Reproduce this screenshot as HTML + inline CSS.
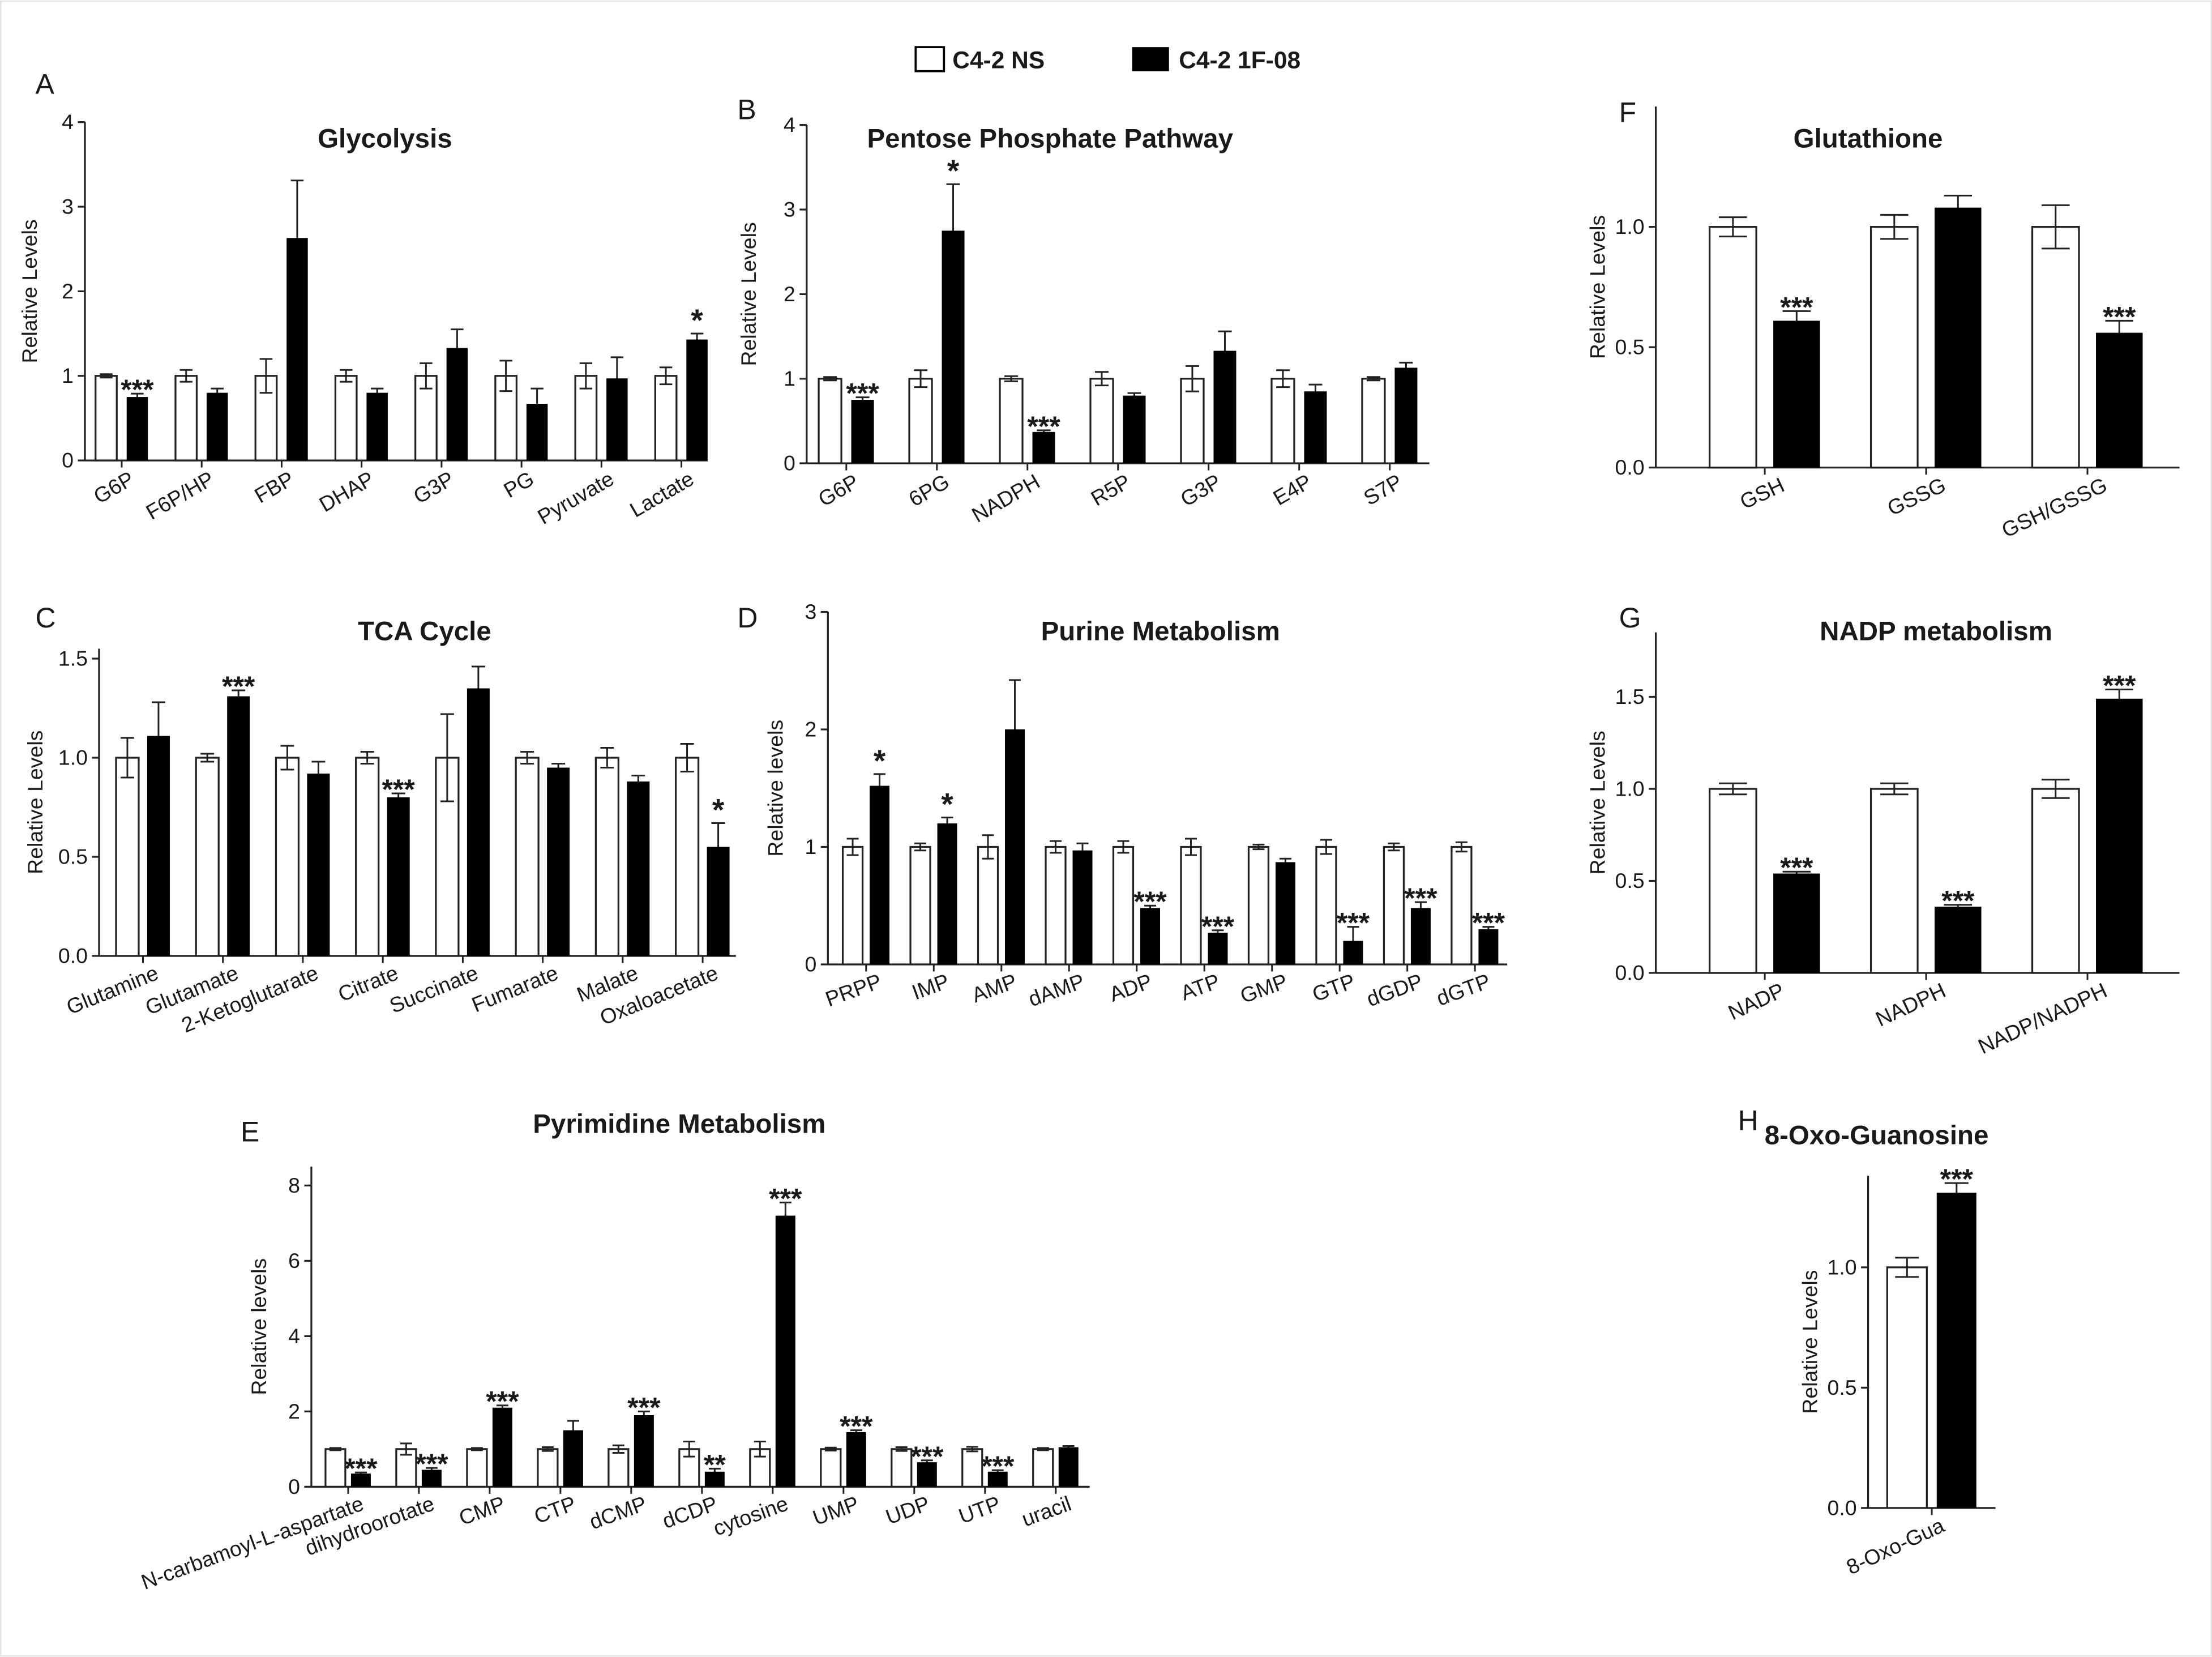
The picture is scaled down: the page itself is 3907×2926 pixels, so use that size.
<!DOCTYPE html>
<html><head><meta charset="utf-8"><style>
html,body{margin:0;padding:0;background:#fff}
svg{display:block}
text{font-family:"Liberation Sans",Arial,sans-serif;fill:#1a1a1a}
</style></head><body>
<svg id="fig" width="3907" height="2926" viewBox="0 0 1563 1170" xmlns="http://www.w3.org/2000/svg">
<rect x="0.5" y="0.5" width="1562" height="1169" fill="#fff" stroke="#e4e4e4"/>
<g>
<rect x="647" y="33" width="20" height="17" fill="#fff" stroke="#000" stroke-width="1.5"/>
<text x="673" y="48" font-size="17" font-weight="bold">C4-2 NS</text>
<rect x="800" y="33" width="26" height="17" fill="#000"/>
<text x="833" y="48" font-size="17" font-weight="bold">C4-2 1F-08</text>
</g>
</svg>
<script>
// Glycolysis
const glyCats=["G6P","F6P/HP","FBP","DHAP","G3P","PG","Pyruvate","Lactate"];
const glyNS=[1,1,1,1,1,1,1,1];
const glyNSErr=[0.02,0.07,0.2,0.07,0.15,0.18,0.15,0.1];
const glyKO=[0.75,0.8,2.63,0.8,1.33,0.67,0.97,1.43];
const glyKOErr=[0.04,0.05,0.68,0.05,0.22,0.18,0.25,0.07];
const glyStars=["***","","","","","","","*"];
const glyTicks=[0,1,2,3,4];
// Pentose phosphate
const pppCats=["G6P","6PG","NADPH","R5P","G3P","E4P","S7P"];
const pppNS=[1,1,1,1,1,1,1];
const pppNSErr=[0.02,0.1,0.03,0.08,0.15,0.1,0.02];
const pppKO=[0.75,2.75,0.37,0.8,1.33,0.85,1.13];
const pppKOErr=[0.03,0.55,0.02,0.03,0.23,0.08,0.06];
const pppStars=["***","*","***","","","",""];
const pppTicks=[0,1,2,3,4];
// Glutathione
const gshCats=["GSH","GSSG","GSH/GSSG"];
const gshNS=[1,1,1];
const gshNSErr=[0.04,0.05,0.09];
const gshKO=[0.61,1.08,0.56];
const gshKOErr=[0.04,0.05,0.05];
const gshStars=["***","","***"];
const gshTicks=[0,0.5,1.0];
// TCA
const tcaCats=["Glutamine","Glutamate","2-Ketoglutarate","Citrate","Succinate","Fumarate","Malate","Oxaloacetate"];
const tcaNS=[1,1,1,1,1,1,1,1];
const tcaNSErr=[0.1,0.02,0.06,0.03,0.22,0.03,0.05,0.07];
const tcaKO=[1.11,1.31,0.92,0.8,1.35,0.95,0.88,0.55];
const tcaKOErr=[0.17,0.03,0.06,0.02,0.11,0.02,0.03,0.12];
const tcaStars=["","***","","***","","","","*"];
const tcaTicks=[0,0.5,1.0,1.5];
// Purine
const purCats=["PRPP","IMP","AMP","dAMP","ADP","ATP","GMP","GTP","dGDP","dGTP"];
const purNS=[1,1,1,1,1,1,1,1,1,1];
const purNSErr=[0.07,0.03,0.1,0.05,0.05,0.07,0.02,0.06,0.03,0.04];
const purKO=[1.52,1.2,2.0,0.97,0.48,0.27,0.87,0.2,0.48,0.3];
const purKOErr=[0.1,0.05,0.42,0.06,0.02,0.02,0.03,0.12,0.05,0.02];
const purStars=["*","*","","","***","***","","***","***","***"];
const purTicks=[0,1,2,3];
// NADP
const nadCats=["NADP","NADPH","NADP/NADPH"];
const nadNS=[1,1,1];
const nadNSErr=[0.03,0.03,0.05];
const nadKO=[0.54,0.36,1.49];
const nadKOErr=[0.01,0.01,0.05];
const nadStars=["***","***","***"];
const nadTicks=[0,0.5,1.0,1.5];
// Pyrimidine
const pyrCats=["N-carbamoyl-L-aspartate","dihydroorotate","CMP","CTP","dCMP","dCDP","cytosine","UMP","UDP","UTP","uracil"];
const pyrNS=[1,1,1,1,1,1,1,1,1,1,1];
const pyrNSErr=[0.03,0.15,0.03,0.05,0.1,0.2,0.2,0.04,0.05,0.06,0.03];
const pyrKO=[0.35,0.45,2.1,1.5,1.9,0.4,7.2,1.45,0.65,0.4,1.05];
const pyrKOErr=[0.03,0.05,0.06,0.25,0.1,0.08,0.35,0.05,0.05,0.04,0.03];
const pyrStars=["***","***","***","","***","**","***","***","***","***",""];
const pyrTicks=[0,2,4,6,8];
// 8-Oxo
const oxoCats=["8-Oxo-Gua"];
const oxoNS=[1];
const oxoNSErr=[0.04];
const oxoKO=[1.31];
const oxoKOErr=[0.04];
const oxoStars=["***"];
const oxoTicks=[0,0.5,1.0];

const NS="http://www.w3.org/2000/svg";
const svg=document.getElementById('fig');
function mk(tag,attrs,parent){const e=document.createElementNS(NS,tag);for(const k in attrs)e.setAttribute(k,attrs[k]);(parent||svg).appendChild(e);return e;}

function panel(p){
  const g=mk('g',{});
  
  
  const yS=v=>p.y0-v*p.ppu;
  const xC=i=>p.x1+i*p.sp;
  const top=yS(p.ymax);
  const L=mk('text',{x:p.lx,y:p.ly,'font-size':20,'font-family':'"Liberation Serif",serif'},g);L.textContent=p.letter;
  
  
  const T=mk('text',{x:p.tx,y:p.ty,'font-size':19,'font-weight':'bold','text-anchor':'middle'},g);T.textContent=p.title;
  
  
  const ya=mk('line',{x1:p.ax,y1:top,x2:p.ax,y2:p.y0,stroke:'#222','stroke-width':1.3},g);
  
  
  const xa=mk('line',{x1:p.ax,y1:p.y0,x2:p.axEnd,y2:p.y0,stroke:'#222','stroke-width':1.3},g);
  
  
  p.ticks.forEach(t=>{
    mk('line',{x1:p.ax-5,y1:yS(t),x2:p.ax,y2:yS(t),stroke:'#222','stroke-width':1.3},g);
    const tl=mk('text',{x:p.ax-8,y:yS(t)+5,'font-size':15,'text-anchor':'end'},g);
    tl.textContent=p.dec?t.toFixed(1):String(t);
    
    
  });
  const midY=(top+p.y0)/2;
  const yt=mk('text',{x:p.ytx,y:midY,'font-size':15,'text-anchor':'middle',transform:`rotate(-90 ${p.ytx} ${midY})`},g);
  yt.textContent=p.ylab;
  
  
  const w=p.bw;
  p.cats.forEach((c,i)=>{
    const cx=xC(i);
    const nx=cx-p.gap/2-w/2, kx=cx+p.gap/2+w/2;
    [[nx,p.ns[i],p.nsE[i]],[kx,p.ko[i],p.koE[i]]].forEach(([x,v,e])=>{
      const eb=mk('path',{d:`M${x} ${yS(v)}V${yS(v+e)}M${x-w*0.3} ${yS(v+e)}H${x+w*0.3}M${x} ${yS(v)}V${yS(v-e)}M${x-w*0.3} ${yS(v-e)}H${x+w*0.3}`,stroke:'#222','stroke-width':1.2,fill:'none'},g);
      
      
    });
    const b1=mk('rect',{x:nx-w/2,y:yS(p.ns[i]),width:w,height:p.ns[i]*p.ppu,fill:'#fff',stroke:'#222','stroke-width':1.3},g);
    
    
    const b2=mk('rect',{x:kx-w/2,y:yS(p.ko[i]),width:w,height:p.ko[i]*p.ppu,fill:'#000'},g);
    
    
    mk('line',{x1:nx,y1:yS(p.ns[i]),x2:nx,y2:yS(p.ns[i]-p.nsE[i]),stroke:'#222','stroke-width':1.2},g);
    mk('line',{x1:nx-w*0.3,y1:yS(p.ns[i]-p.nsE[i]),x2:nx+w*0.3,y2:yS(p.ns[i]-p.nsE[i]),stroke:'#222','stroke-width':1.2},g);
    if(p.stars[i]){
      const st=mk('text',{x:kx,y:yS(p.ko[i]+p.koE[i])+(p.stars[i]=="*"?-2:4),'font-size':p.stars[i]=="*"?22:20,'font-weight':'bold','text-anchor':'middle'},g);
      st.textContent=p.stars[i];
      
      
    }
    mk('line',{x1:cx,y1:p.y0,x2:cx,y2:p.y0+5,stroke:'#222','stroke-width':1.2},g);
    const lx=cx+p.lo, ly=p.y0+16;
    const lab=mk('text',{x:lx,y:ly,'font-size':15,'text-anchor':'end',transform:`rotate(${p.rot} ${lx} ${ly})`},g);
    lab.textContent=c;
    
    
  });
}
panel({name:'glycolysis',letter:'A',lx:25,ly:66,title:'Glycolysis',tx:272,ty:104,ax:60,axEnd:500,y0:325,ppu:59.75,ymax:4,ticks:glyTicks,dec:false,ytx:26,ylab:'Relative Levels',x1:86,sp:56.5,bw:15,gap:7,cats:glyCats,ns:glyNS,nsE:glyNSErr,ko:glyKO,koE:glyKOErr,stars:glyStars,rot:-30,lo:10});
panel({name:'pentose-phosphate',letter:'B',lx:521,ly:84,title:'Pentose Phosphate Pathway',tx:742,ty:104,ax:570,axEnd:1010,y0:327,ppu:59.75,ymax:4,ticks:pppTicks,dec:false,ytx:534,ylab:'Relative Levels',x1:598,sp:64,bw:16,gap:7,cats:pppCats,ns:pppNS,nsE:pppNSErr,ko:pppKO,koE:pppKOErr,stars:pppStars,rot:-30,lo:10});
panel({name:'glutathione',letter:'F',lx:1144,ly:86,title:'Glutathione',tx:1320,ty:104,ax:1170,axEnd:1540,y0:330,ppu:170,ymax:1.5,ticks:gshTicks,dec:true,ytx:1134,ylab:'Relative Levels',x1:1247,sp:114,bw:33,gap:12,cats:gshCats,ns:gshNS,nsE:gshNSErr,ko:gshKO,koE:gshKOErr,stars:gshStars,rot:-25,lo:15});
panel({name:'tca-cycle',letter:'C',lx:25,ly:443,title:'TCA Cycle',tx:300,ty:452,ax:70,axEnd:520,y0:675,ppu:140,ymax:1.55,ticks:tcaTicks,dec:true,ytx:30,ylab:'Relative Levels',x1:101,sp:56.5,bw:16,gap:6,cats:tcaCats,ns:tcaNS,nsE:tcaNSErr,ko:tcaKO,koE:tcaKOErr,stars:tcaStars,rot:-22,lo:12});
panel({name:'purine-metabolism',letter:'D',lx:521,ly:443,title:'Purine Metabolism',tx:820,ty:452,ax:585,axEnd:1065,y0:681,ppu:83,ymax:3,ticks:purTicks,dec:false,ytx:553,ylab:'Relative levels',x1:612,sp:47.8,bw:14,gap:5,cats:purCats,ns:purNS,nsE:purNSErr,ko:purKO,koE:purKOErr,stars:purStars,rot:-20,lo:12});
panel({name:'nadp-metabolism',letter:'G',lx:1144,ly:443,title:'NADP metabolism',tx:1368,ty:452,ax:1170,axEnd:1540,y0:687,ppu:130,ymax:1.85,ticks:nadTicks,dec:true,ytx:1134,ylab:'Relative Levels',x1:1247,sp:114,bw:33,gap:12,cats:nadCats,ns:nadNS,nsE:nadNSErr,ko:nadKO,koE:nadKOErr,stars:nadStars,rot:-25,lo:15});
panel({name:'pyrimidine-metabolism',letter:'E',lx:170,ly:806,title:'Pyrimidine Metabolism',tx:480,ty:800,ax:220,axEnd:770,y0:1050,ppu:26.6,ymax:8.5,ticks:pyrTicks,dec:false,ytx:188,ylab:'Relative levels',x1:246,sp:50,bw:14,gap:4,cats:pyrCats,ns:pyrNS,nsE:pyrNSErr,ko:pyrKO,koE:pyrKOErr,stars:pyrStars,rot:-20,lo:12});
panel({name:'oxo-guanosine',letter:'H',lx:1228,ly:798,title:'8-Oxo-Guanosine',tx:1326,ty:808,ax:1320,axEnd:1410,y0:1065,ppu:170,ymax:1.38,ticks:oxoTicks,dec:true,ytx:1284,ylab:'Relative Levels',x1:1365,sp:50,bw:28,gap:7,cats:oxoCats,ns:oxoNS,nsE:oxoNSErr,ko:oxoKO,koE:oxoKOErr,stars:oxoStars,rot:-25,lo:10});
</script>
</body></html>
